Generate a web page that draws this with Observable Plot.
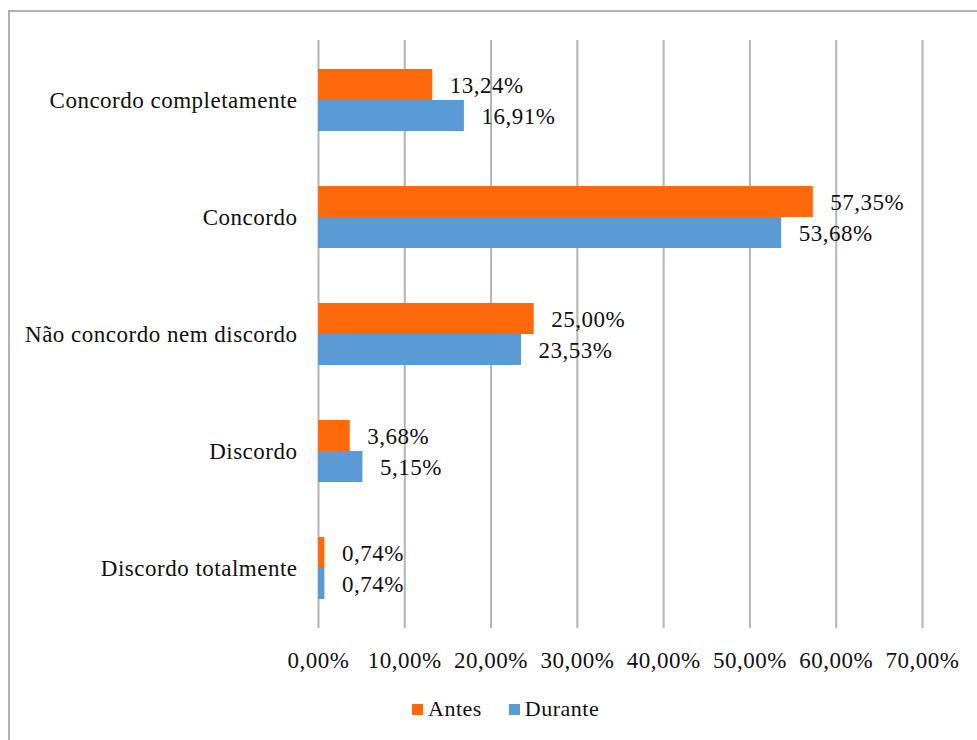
<!DOCTYPE html>
<html>
<head>
<meta charset="utf-8">
<script src="https://cdn.jsdelivr.net/npm/d3@7"></script>
<script src="https://cdn.jsdelivr.net/npm/@observablehq/plot@0.6"></script>
<style>
  html, body { margin: 0; padding: 0; background: #fff; }
  #wrap { position: relative; width: 977px; height: 740px; overflow: hidden; font-family: "Liberation Serif", "Times New Roman", serif; }
  #frame { position: absolute; left: 8px; top: 10px; width: 1000px; height: 800px; border-left: 2px solid #b0b0b0; border-top: 2px solid #b0b0b0; box-sizing: border-box; }
  #chart { position: absolute; left: 0; top: 0; }
  #legend { position: absolute; top: 696px; left: 412px; display: flex; align-items: center; font-size: 22px; letter-spacing: 0.5px; color: #111; }
  #legend .sw { display: inline-block; width: 11px; height: 11px; margin-right: 5px; }
  #legend .item { display: flex; align-items: center; margin-right: 27px; }
</style>
</head>
<body>
<div id="wrap">
  <div id="frame"></div>
  <div id="chart"></div>
  <div id="legend"></div>
</div>
<script>
const categories = ["Concordo completamente", "Concordo", "Não concordo nem discordo", "Discordo", "Discordo totalmente"];
const antes = [13.24, 57.35, 25.00, 3.68, 0.74];
const durante = [16.91, 53.68, 23.53, 5.15, 0.74];
const xTicks = [0, 10, 20, 30, 40, 50, 60, 70];
const seriesNames = ["Antes", "Durante"];
const seriesColors = ["#ff690c", "#5b9bd5"];

const fmt = v => v.toFixed(2).replace(".", ",") + "%";
const dataAntes = categories.map((c, i) => ({category: c, value: antes[i]}));
const dataDurante = categories.map((c, i) => ({category: c, value: durante[i]}));

const chart = Plot.plot({
  width: 977,
  height: 680,
  marginTop: 40,
  marginBottom: 52,
  marginLeft: 318,
  marginRight: 55,
  style: { fontFamily: "'Liberation Serif', 'Times New Roman', serif", fontSize: "23px", letterSpacing: "0.5px", color: "#111", background: "transparent", overflow: "visible" },
  x: { domain: [0, 70], ticks: xTicks, tickFormat: fmt, tickSize: 0, tickPadding: 23, label: null },
  y: { domain: categories, paddingInner: 0.47, paddingOuter: 0.235, tickSize: 0, tickPadding: 21, label: null },
  marks: [
    Plot.ruleX(xTicks, { stroke: "#b3b3b3", strokeWidth: 2 }),
    Plot.barX(dataAntes, { x: "value", y: "category", fill: seriesColors[0], insetBottom: 31 }),
    Plot.barX(dataDurante, { x: "value", y: "category", fill: seriesColors[1], insetTop: 31 }),
    Plot.text(dataAntes, { x: "value", y: "category", text: d => fmt(d.value), textAnchor: "start", dx: 17, dy: -15, fontSize: 23, fill: "#111" }),
    Plot.text(dataDurante, { x: "value", y: "category", text: d => fmt(d.value), textAnchor: "start", dx: 17, dy: 16, fontSize: 23, fill: "#111" })
  ]
});
document.getElementById("chart").appendChild(chart);

const legend = document.getElementById("legend");
seriesNames.forEach((name, i) => {
  const item = document.createElement("span");
  item.className = "item";
  const sw = document.createElement("span");
  sw.className = "sw";
  sw.style.background = seriesColors[i];
  item.appendChild(sw);
  item.appendChild(document.createTextNode(name));
  legend.appendChild(item);
});
</script>
</body>
</html>
